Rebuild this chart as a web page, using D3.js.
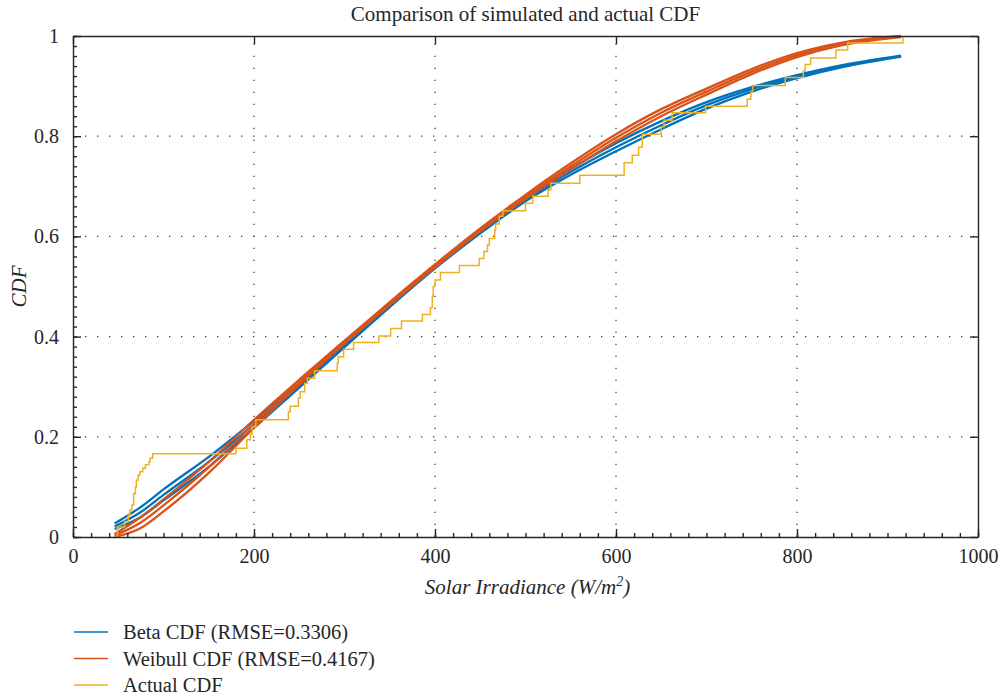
<!DOCTYPE html>
<html>
<head>
<meta charset="utf-8">
<script src="https://cdn.jsdelivr.net/npm/d3@7"></script>
<style>
  body { margin: 0; background: #fff; }
  svg { display: block; }
  text { font-family: "Liberation Serif", "DejaVu Serif", serif; fill: #262626; }
</style>
</head>
<body>
<svg id="chart" width="1004" height="699"></svg>
<script>
// Axis ticks
const xTicks = [0, 200, 400, 600, 800, 1000];
const xTickLabels = ["0", "200", "400", "600", "800", "1000"];
const yTicks = [0, 0.2, 0.4, 0.6, 0.8, 1];
const yTickLabels = ["0", "0.2", "0.4", "0.6", "0.8", "1"];

// Irradiance sample points for the fitted CDF curves (W/m^2)
const curveX = [46, 75, 100, 150, 200, 250, 300, 350, 400, 450, 500, 550, 600, 650, 700, 750, 800, 850, 915];

// Beta CDF fits
const beta1 = [0.027, 0.060, 0.095, 0.160, 0.232, 0.308, 0.387, 0.465, 0.542, 0.612, 0.678, 0.735, 0.786, 0.830, 0.868, 0.898, 0.922, 0.942, 0.961];
const beta2 = [0.021, 0.050, 0.084, 0.150, 0.225, 0.303, 0.383, 0.462, 0.539, 0.609, 0.674, 0.729, 0.778, 0.822, 0.862, 0.894, 0.919, 0.940, 0.960];
const beta3 = [0.016, 0.040, 0.073, 0.140, 0.218, 0.298, 0.379, 0.459, 0.536, 0.606, 0.670, 0.723, 0.770, 0.814, 0.855, 0.889, 0.916, 0.938, 0.959];

// Weibull CDF fits
const weib1 = [0.006, 0.040, 0.075, 0.150, 0.234, 0.314, 0.392, 0.469, 0.544, 0.616, 0.683, 0.746, 0.804, 0.854, 0.895, 0.934, 0.966, 0.987, 1.000];
const weib2 = [0.003, 0.029, 0.063, 0.139, 0.226, 0.309, 0.389, 0.466, 0.541, 0.613, 0.679, 0.740, 0.797, 0.847, 0.889, 0.929, 0.962, 0.985, 0.999];
const weib3 = [0.000, 0.018, 0.051, 0.128, 0.218, 0.304, 0.386, 0.463, 0.538, 0.610, 0.675, 0.734, 0.790, 0.840, 0.883, 0.924, 0.958, 0.982, 0.998];

// Empirical CDF: irradiance where each step occurs and the level reached
const actualX = [46, 49, 57, 61, 63, 65, 67, 69, 70, 72, 74, 77, 80, 84, 85, 88,
  180, 192, 196, 198, 202, 238, 240, 249, 251, 256, 259, 267, 292, 293, 299, 310,
  338, 351, 363, 386, 395, 397, 398, 400, 406, 427, 449, 454, 458, 460, 466, 467,
  471, 475, 500, 508, 525, 528, 560, 609, 618, 625, 629, 650, 653, 662, 699, 745,
  749, 751, 787, 807, 809, 815, 843, 856, 917];
const actualP = [0.000, 0.020, 0.031, 0.045, 0.054, 0.064, 0.087, 0.100, 0.114, 0.124, 0.130, 0.137, 0.144, 0.150, 0.157, 0.166,
  0.177, 0.194, 0.205, 0.220, 0.234, 0.250, 0.261, 0.277, 0.290, 0.307, 0.317, 0.332, 0.347, 0.360, 0.375, 0.388,
  0.401, 0.416, 0.431, 0.444, 0.458, 0.480, 0.500, 0.513, 0.528, 0.542, 0.556, 0.570, 0.583, 0.596, 0.613, 0.625,
  0.640, 0.651, 0.666, 0.680, 0.693, 0.706, 0.722, 0.747, 0.762, 0.778, 0.804, 0.819, 0.832, 0.847, 0.860, 0.874,
  0.888, 0.901, 0.917, 0.930, 0.943, 0.956, 0.972, 0.986, 1.000];

const legendLabels = ["Beta CDF (RMSE=0.3306)", "Weibull CDF (RMSE=0.4167)", "Actual CDF"];
const colors = { beta: "#0072BD", weibull: "#D95319", actual: "#EDB120" };

const svg = d3.select("#chart");
const plotLeft = 73, plotRight = 978, plotTop = 36, plotBottom = 537;

const x = d3.scaleLinear().domain([0, 1000]).range([plotLeft, plotRight]);
const y = d3.scaleLinear().domain([0, 1]).range([plotBottom, plotTop]);

// Dotted grid
const grid = svg.append("g").attr("stroke", "#3a3a3a").attr("stroke-width", 1.3)
  .attr("stroke-dasharray", "1.3 10.7");
xTicks.slice(1, -1).forEach(v => {
  grid.append("line").attr("x1", x(v)).attr("x2", x(v)).attr("y1", plotBottom).attr("y2", plotTop);
});
yTicks.slice(1, -1).forEach(v => {
  grid.append("line").attr("x1", plotLeft).attr("x2", plotRight).attr("y1", y(v)).attr("y2", y(v));
});

// Series
const plot = svg.append("g");
const smooth = d3.line().x(d => x(d[0])).y(d => y(d[1])).curve(d3.curveMonotoneX);
[beta1, beta2, beta3].forEach(s => {
  plot.append("path").datum(curveX.map((v, i) => [v, s[i]]))
    .attr("d", smooth).attr("fill", "none").attr("stroke", colors.beta).attr("stroke-width", 2.3);
});
[weib1, weib2, weib3].forEach(s => {
  plot.append("path").datum(curveX.map((v, i) => [v, s[i]]))
    .attr("d", smooth).attr("fill", "none").attr("stroke", colors.weibull).attr("stroke-width", 2.3);
});
const step = d3.line().x(d => x(d[0])).y(d => y(d[1])).curve(d3.curveStepAfter);
plot.append("path").datum(actualX.map((v, i) => [v, actualP[i]]))
  .attr("d", step).attr("fill", "none").attr("stroke", colors.actual).attr("stroke-width", 1.5);

// Axes (inward ticks, box)
const axisColor = "#262626";
const fontSize = 20;
const xAxisB = d3.axisBottom(x).tickValues(xTicks).tickFormat((d, i) => xTickLabels[i]).tickSizeInner(-8).tickSizeOuter(0).tickPadding(12);
svg.append("g").attr("transform", `translate(0,${plotBottom})`).call(xAxisB);
const xAxisT = d3.axisTop(x).tickValues(xTicks).tickFormat("").tickSizeInner(-8).tickSizeOuter(0);
svg.append("g").attr("transform", `translate(0,${plotTop})`).call(xAxisT);
const yAxisL = d3.axisLeft(y).tickValues(yTicks).tickFormat((d, i) => yTickLabels[i]).tickSizeInner(-8).tickSizeOuter(0).tickPadding(14);
svg.append("g").attr("transform", `translate(${plotLeft},0)`).call(yAxisL);
const yAxisR = d3.axisRight(y).tickValues(yTicks).tickFormat("").tickSizeInner(-8).tickSizeOuter(0);
svg.append("g").attr("transform", `translate(${plotRight},0)`).call(yAxisR);

// Minor ticks
const xMinor = d3.range(0, 1001, 20);
const yMinor = d3.range(0, 1.001, 0.02);
svg.append("g").attr("transform", `translate(0,${plotBottom})`)
  .call(d3.axisBottom(x).tickValues(xMinor).tickFormat("").tickSizeInner(-4).tickSizeOuter(0))
  .call(g => g.select(".domain").remove());
svg.append("g").attr("transform", `translate(${plotLeft},0)`)
  .call(d3.axisLeft(y).tickValues(yMinor).tickFormat("").tickSizeInner(-4).tickSizeOuter(0))
  .call(g => g.select(".domain").remove());

svg.selectAll(".domain, .tick line").attr("stroke", axisColor).attr("stroke-width", 1.4);
svg.selectAll(".tick text").attr("font-size", fontSize).attr("font-family", "Liberation Serif").attr("fill", "#262626");

// Title and axis labels
svg.append("text").attr("x", (plotLeft + plotRight) / 2).attr("y", 21).attr("text-anchor", "middle")
  .attr("font-size", 21).text("Comparison of simulated and actual CDF");

const xl = svg.append("text").attr("x", (plotLeft + plotRight) / 2 + 2).attr("y", 594).attr("text-anchor", "middle")
  .attr("font-size", 21).attr("font-style", "italic");
xl.append("tspan").text("Solar Irradiance (W/m");
xl.append("tspan").attr("font-size", 14).attr("dy", -8).text("2");
xl.append("tspan").attr("dy", 8).text(")");

svg.append("text").attr("transform", `translate(26,${(plotTop + plotBottom) / 2}) rotate(-90)`)
  .attr("text-anchor", "middle").attr("font-size", 21).attr("font-style", "italic").text("CDF");

// Legend
const legend = svg.append("g");
const legendColors = [colors.beta, colors.weibull, colors.actual];
legendLabels.forEach((lab, i) => {
  const yy = 632 + i * 26.5;
  legend.append("line").attr("x1", 74).attr("x2", 108).attr("y1", yy).attr("y2", yy)
    .attr("stroke", legendColors[i]).attr("stroke-width", 1.6);
  legend.append("text").attr("x", 123).attr("y", yy + 7).attr("font-size", 20.5).text(lab);
});
</script>
</body>
</html>
